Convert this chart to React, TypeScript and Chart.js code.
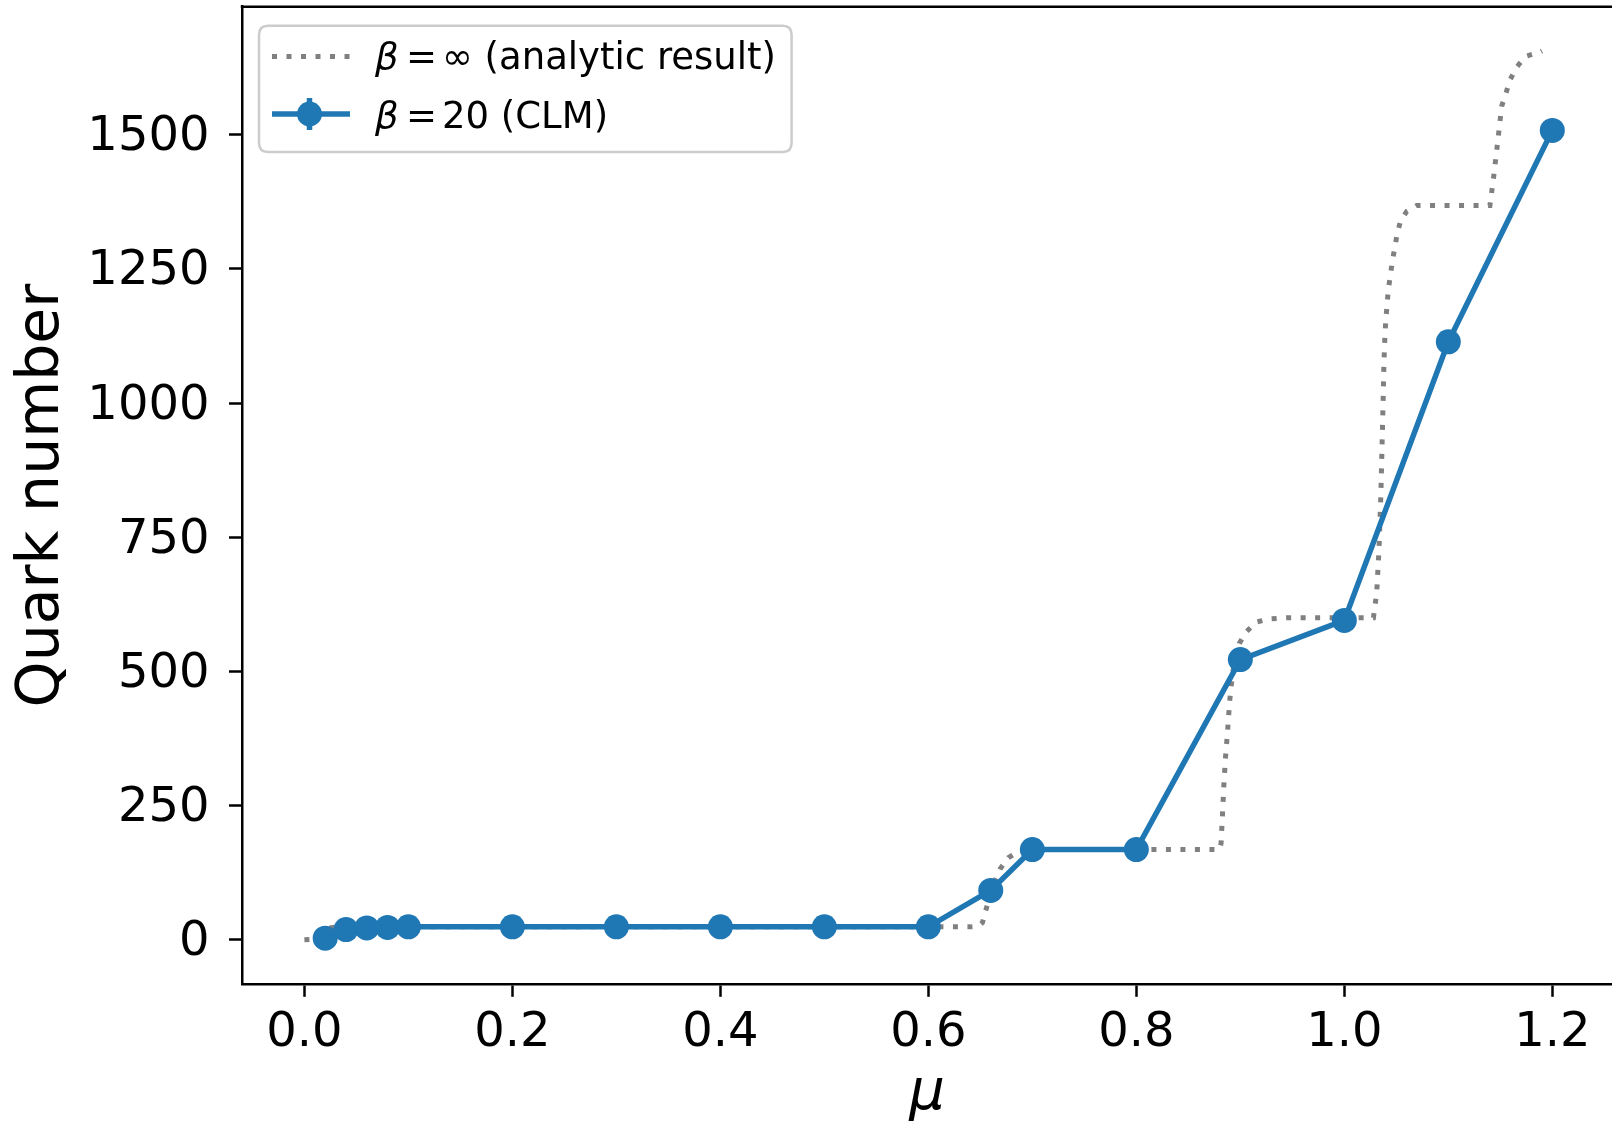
import React, { useEffect, useRef } from "react";
import { Chart, registerables } from "chart.js";

Chart.register(...registerables);

// ---- data ----
const MU_CLM = [0.02, 0.04, 0.06, 0.08, 0.1, 0.2, 0.3, 0.4, 0.5, 0.6, 0.66, 0.7, 0.8, 0.9, 1.0, 1.1, 1.2];
const N_CLM = [3, 19, 22, 23, 24, 24, 24, 24, 24, 24, 92, 168, 168, 522, 595, 1114, 1508];

const MU_ANALYTIC = [
  0.0, 0.01, 0.015, 0.02, 0.025, 0.03,
  0.64, 0.648, 0.652, 0.656, 0.662, 0.669, 0.677, 0.687, 0.7,
  0.88, 0.8815, 0.8825, 0.884, 0.8856, 0.8878, 0.8897, 0.8926, 0.896, 0.899, 0.9054, 0.9151, 0.9285, 0.945,
  1.028, 1.0311, 1.0333, 1.0352, 1.0372, 1.0381, 1.0391, 1.04, 1.0423, 1.0461, 1.0509, 1.0542, 1.06, 1.0696,
  1.14, 1.1432, 1.1465, 1.1497, 1.1513, 1.1554, 1.1593, 1.1657, 1.1746, 1.1881, 1.19,
];
const N_ANALYTIC = [
  0, 1, 6, 16, 22, 24,
  24, 25, 32, 60, 100, 132, 153, 165, 168,
  168, 180, 220, 282, 336, 390, 444, 498, 530, 552, 573, 592, 598, 600,
  600, 646, 725, 834, 995, 1076, 1129, 1157, 1211, 1263, 1316, 1340, 1357, 1368,
  1368, 1415, 1470, 1525, 1553, 1577, 1602, 1626, 1646, 1654, 1656,
];

const X_TICKS = [0.0, 0.2, 0.4, 0.6, 0.8, 1.0, 1.2];
const Y_TICKS = [0, 250, 500, 750, 1000, 1250, 1500];

const LABEL_ANALYTIC = "β = ∞ (analytic result)";
const LABEL_CLM = "β = 20 (CLM)";
const X_TITLE = "μ";
const Y_TITLE = "Quark number";

const BLUE = "#1f77b4";
const GRAY = "#808080";
const FONT = "DejaVu Sans";

const zeroPadding = (s: any) => {
  s.paddingTop = 0;
  s.paddingBottom = 0;
  s.paddingLeft = 0;
  s.paddingRight = 0;
};

const framePlugin = {
  id: "frameAndLegend",
  afterDraw(chart: any) {
    const ctx = chart.ctx as CanvasRenderingContext2D;
    const { left, right, top } = chart.chartArea;
    ctx.save();
    // top spine
    ctx.strokeStyle = "#000";
    ctx.lineWidth = 2.5;
    ctx.beginPath();
    ctx.moveTo(left - 1.25, top);
    ctx.lineTo(right, top);
    ctx.stroke();

    // legend box
    const bx = 259, by = 25.7, bw = 532.6, bh = 126.3, r = 9;
    ctx.beginPath();
    ctx.moveTo(bx + r, by);
    ctx.lineTo(bx + bw - r, by);
    ctx.quadraticCurveTo(bx + bw, by, bx + bw, by + r);
    ctx.lineTo(bx + bw, by + bh - r);
    ctx.quadraticCurveTo(bx + bw, by + bh, bx + bw - r, by + bh);
    ctx.lineTo(bx + r, by + bh);
    ctx.quadraticCurveTo(bx, by + bh, bx, by + bh - r);
    ctx.lineTo(bx, by + r);
    ctx.quadraticCurveTo(bx, by, bx + r, by);
    ctx.closePath();
    ctx.fillStyle = "rgba(255,255,255,0.8)";
    ctx.fill();
    ctx.strokeStyle = "#cccccc";
    ctx.lineWidth = 2.5;
    ctx.stroke();

    const ds = chart.data.datasets;
    const rows = [
      { ds: ds[1], y: 59.5, lineY: 56.5 },
      { ds: ds[0], y: 118, lineY: 114 },
    ];
    rows.forEach((row, i) => {
      ctx.save();
      if (i === 0) {
        ctx.strokeStyle = GRAY;
        ctx.lineWidth = 5;
        ctx.setLineDash([5, 9.5]);
        ctx.beginPath();
        ctx.moveTo(272, row.lineY);
        ctx.lineTo(350, row.lineY);
        ctx.stroke();
      } else {
        ctx.strokeStyle = BLUE;
        ctx.lineWidth = 5.5;
        ctx.beginPath();
        ctx.moveTo(272, row.lineY);
        ctx.lineTo(350, row.lineY);
        ctx.moveTo(309.5, row.lineY - 16);
        ctx.lineTo(309.5, row.lineY + 16);
        ctx.stroke();
        ctx.fillStyle = BLUE;
        ctx.beginPath();
        ctx.arc(309.5, row.lineY, 12.5, 0, Math.PI * 2);
        ctx.fill();
      }
      ctx.restore();
      const label: string = row.ds.label;
      const parts = label.split(" = ");
      ctx.fillStyle = "#000";
      ctx.textBaseline = "middle";
      ctx.textAlign = "left";
      ctx.font = `italic 37px '${FONT}'`;
      ctx.fillText(parts[0], 375, row.y);
      ctx.font = `37px '${FONT}'`;
      ctx.fillText("=", 406, row.y);
      ctx.fillText(parts[1], 442, row.y);
    });
    ctx.restore();
  },
};

export default function App() {
  const canvasRef = useRef<HTMLCanvasElement | null>(null);

  useEffect(() => {
    if (!canvasRef.current) return;
    Chart.defaults.font.family = FONT;
    const chart = new Chart(canvasRef.current, {
      type: "line",
      data: {
        datasets: [
          {
            label: LABEL_CLM,
            data: MU_CLM.map((x, i) => ({ x, y: N_CLM[i] })),
            borderColor: BLUE,
            backgroundColor: BLUE,
            borderWidth: 5.5,
            pointRadius: 12.5,
            pointBackgroundColor: BLUE,
            pointBorderWidth: 0,
            tension: 0,
            order: 1,
          },
          {
            label: LABEL_ANALYTIC,
            data: MU_ANALYTIC.map((x, i) => ({ x, y: N_ANALYTIC[i] })),
            borderColor: GRAY,
            borderWidth: 5,
            borderDash: [5, 9.5],
            pointRadius: 0,
            tension: 0,
            order: 2,
          },
        ],
      },
      options: {
        responsive: false,
        animation: false,
        devicePixelRatio: 1,
        layout: { autoPadding: false, padding: { top: 6.7, left: 0, right: 0, bottom: 0 } },
        plugins: { legend: { display: false }, tooltip: { enabled: false } },
        events: [],
        scales: {
          x: {
            type: "linear",
            min: -0.06,
            max: 1.2574,
            afterBuildTicks: (s: any) => {
              s.ticks = X_TICKS.map((v) => ({ value: v }));
            },
            afterFit: (s: any) => {
              s.height = 141.7;
              zeroPadding(s);
            },
            ticks: {
              callback: (v: any) => Number(v).toFixed(1),
              font: { family: FONT, size: 48, lineHeight: 1.2 },
              color: "#000",
              padding: 7.6,
              maxRotation: 0,
              autoSkip: false,
            },
            grid: {
              display: true,
              drawOnChartArea: false,
              drawTicks: true,
              tickLength: 12.5,
              tickWidth: 2.5,
              tickColor: "#000",
            },
            border: { display: true, color: "#000", width: 2.5 },
            title: {
              display: true,
              text: X_TITLE,
              color: "#000",
              font: { family: FONT, size: 56, style: "italic", lineHeight: 1 },
              padding: { top: 0, bottom: 4 },
            },
          },
          y: {
            type: "linear",
            min: -83,
            max: 1738.5,
            afterBuildTicks: (s: any) => {
              s.ticks = Y_TICKS.map((v) => ({ value: v }));
            },
            afterFit: (s: any) => {
              s.width = 242;
              zeroPadding(s);
            },
            ticks: {
              callback: (v: any) => String(v),
              font: { family: FONT, size: 48, lineHeight: 1.2 },
              color: "#000",
              padding: 19.5,
              labelOffset: 3,
              autoSkip: false,
            },
            grid: {
              display: true,
              drawOnChartArea: false,
              drawTicks: true,
              tickLength: 13,
              tickWidth: 2.5,
              tickColor: "#000",
            },
            border: { display: true, color: "#000", width: 2.5 },
            title: {
              display: true,
              text: Y_TITLE,
              color: "#000",
              font: { family: FONT, size: 58.5, lineHeight: 1 },
              padding: { top: 14, bottom: 0 },
            },
          },
        },
      },
      plugins: [framePlugin],
    } as any);
    return () => chart.destroy();
  }, []);

  return (
    <div style={{ position: "fixed", left: 0, top: 0, width: 1612, height: 1126, background: "#fff" }}>
      <canvas ref={canvasRef} width={1612} height={1126} style={{ display: "block" }} />
    </div>
  );
}
